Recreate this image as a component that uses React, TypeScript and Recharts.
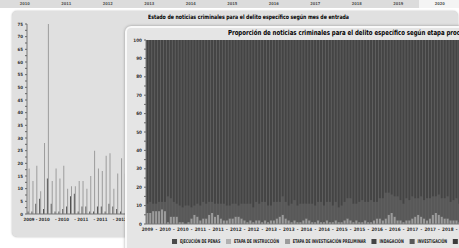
import { BarChart, Bar, XAxis, YAxis, CartesianGrid } from "recharts";

const NARROW = '"Liberation Sans Narrow", "DejaVu Sans Condensed", "Liberation Sans", sans-serif';

// strip of a chart behind, only its axis labels show
const stripYears = ["2010", "2011", "2012", "2013", "2014", "2015", "2016", "2017", "2018", "2019", "2020"];

// left chart: estado de noticias por mes de entrada
const leftDark = [1, 1, 4, 6, 2, 14, 4, 1, 1, 2, 3, 7, 8, 1, 3, 3, 1, 1, 3, 3, 1, 4, 3, 2, 1, 0, 6];
const leftLight = [18, 13, 19, 9, 28, 75, 13, 18, 14, 19, 10, 11, 11, 13, 13, 10, 15, 25, 18, 17, 23, 24, 10, 16, 22, 16, 14];
const leftTickLabels: Record<number, string> = {
  0: "2009", 2: "-", 4: "2010", 7: "-", 9: "2010", 12: "-", 14: "2011", 17: "-", 19: "2011", 22: "-", 24: "2012",
};
const leftYTicks = [0, 2.5, 5, 7.5, 10, 12.5, 15, 17.5, 20, 22.5, 25, 27.5, 30, 32.5, 35, 37.5, 40, 42.5, 45, 47.5, 50, 52.5, 55, 57.5, 60, 62.5, 65, 67.5, 70, 72.5, 75];

// front chart: proporcion por etapa procesal, monthly from 2009-07
const preliminar = [
  6, 6, 7, 7, 7, 8, 7, 1, 4, 4,
  4, 1, 1, 0, 1, 3, 5, 4, 2, 3,
  3, 5, 6, 4, 5, 3, 2, 2, 3, 3,
  4, 4, 3, 2, 1, 2, 1, 2, 2, 1,
  2, 1, 2, 2, 3, 4, 5, 3, 2, 1,
  2, 1, 1, 2, 3, 2, 1, 1, 2, 1,
  1, 2, 1, 1, 2, 1, 1, 2, 3, 2,
  1, 2, 1, 1, 2, 1, 1, 2, 3, 3,
  2, 3, 5, 6, 4, 2, 2, 1, 2, 2,
  3, 4, 5, 4, 3, 2, 3, 5, 6, 5,
  4, 3, 3, 2, 2, 2, 1, 2,
];
const investigacion = [
  5, 6, 4, 4, 5, 4, 5, 14, 10, 8,
  7, 9, 8, 10, 9, 6, 5, 7, 8, 9,
  8, 7, 6, 7, 6, 8, 9, 8, 7, 8,
  7, 6, 8, 9, 10, 9, 8, 10, 9, 11,
  10, 9, 8, 10, 9, 8, 10, 9, 8, 10,
  11, 9, 10, 9, 8, 9, 10, 9, 10, 11,
  9, 10, 11, 9, 10, 8, 9, 10, 11, 12,
  10, 9, 11, 12, 10, 11, 12, 10, 9, 11,
  12, 14, 12, 10, 11, 13, 11, 10, 12, 11,
  12, 10, 9, 11, 10, 12, 11, 10, 9, 11,
  10, 11, 12, 10, 11, 12, 10, 11,
];
const indagacion = [
  89, 88, 89, 89, 88, 88, 88, 85, 86, 88,
  89, 90, 91, 90, 90, 91, 90, 89, 90, 88,
  89, 88, 88, 89, 89, 89, 89, 90, 90, 89,
  89, 90, 89, 89, 89, 89, 91, 88, 89, 88,
  88, 90, 90, 88, 88, 88, 85, 88, 90, 89,
  87, 90, 89, 89, 89, 89, 89, 90, 88, 88,
  90, 88, 88, 90, 88, 91, 90, 88, 86, 86,
  89, 89, 88, 87, 88, 88, 87, 88, 88, 86,
  86, 83, 83, 84, 85, 85, 87, 89, 86, 87,
  85, 86, 86, 85, 87, 86, 86, 85, 85, 84,
  86, 86, 85, 88, 87, 86, 89, 87,
];
const frontYTicks = [0, 5, 10, 15, 20, 25, 30, 35, 40, 45, 50, 55, 60, 65, 70, 75, 80, 85, 90, 95, 100];

const stages = [
  { name: "EJECUCIÓN DE PENAS", color: "#4a4a4a" },
  { name: "ETAPA DE INSTRUCCIÓN", color: "#b0b0b0" },
  { name: "ETAPA DE INVESTIGACIÓN PRELIMINAR", color: "#9b9b9b" },
  { name: "INDAGACIÓN", color: "#444444" },
  { name: "INVESTIGACIÓN", color: "#585858" },
  { name: "JUICIO", color: "#3c3c3c" },
];

const months: string[] = [];
for (let i = 0; i < preliminar.length; i++) {
  const m = 6 + i;
  months.push(`${2009 + Math.floor(m / 12)}-${String((m % 12) + 1).padStart(2, "0")}`);
}

const leftData = leftDark.map((d, i) => ({ idx: i, archivadas: d, activas: leftLight[i] }));
const frontData = months.map((mes, i) => ({
  mes,
  preliminar: preliminar[i],
  investigacion: investigacion[i],
  indagacion: indagacion[i],
}));

const yTick = (step: number, size: number) => (props: any) => {
  const { x, y, payload } = props;
  if (payload.value % step !== 0) return <g />;
  return (
    <text x={x} y={y} textAnchor="end" dominantBaseline="central" fontSize={size} fontFamily={NARROW} fontWeight="bold" fill="#333">
      {payload.value}
    </text>
  );
};

const LeftXTick = (props: any) => {
  const { x, y, payload } = props;
  const label = leftTickLabels[payload.value];
  if (!label) return <g />;
  return (
    <text x={x} y={y} dy="0.71em" textAnchor="middle" fontSize={4.4} fontFamily={NARROW} fontWeight="bold" fill="#333">
      {label}
    </text>
  );
};

const FrontXTick = (props: any) => {
  const { x, y, payload } = props;
  const [year, month] = String(payload.value).split("-");
  let label = "";
  if (month === "01" || month === "07") label = year;
  else if (month === "04" || month === "10") label = "-";
  if (!label) return <g />;
  return (
    <text x={x} y={y} dy="0.71em" textAnchor="middle" fontSize={4.6} fontFamily={NARROW} fontWeight="bold" fill="#333">
      {label}
    </text>
  );
};

const squeeze = (k: number) => ({ transform: `scaleX(${k})`, transformOrigin: "left center" });

export default function App() {
  return (
    <div style={{ position: "fixed", left: 0, top: 0, width: 459, height: 248, overflow: "hidden", background: "#fff", fontFamily: NARROW }}>
      {/* top strip */}
      <div style={{ position: "absolute", left: 0, top: 0, width: 459, height: 8, background: "#dcdcdc", display: "flex", paddingLeft: 4 }}>
        {stripYears.map((y, i) => (
          <div
            key={y}
            style={{
              width: 41.5,
              textAlign: "center",
              fontSize: 4,
              lineHeight: "7px",
              fontWeight: "bold",
              color: "#555",
              background: i === stripYears.length - 1 ? "#f4f4f4" : undefined,
            }}
          >
            {y}
          </div>
        ))}
      </div>

      {/* back panel */}
      <div style={{ position: "absolute", left: 12, top: 11, width: 446, height: 226, background: "#e0e0e0", borderRadius: 5, boxShadow: "0 0 2px rgba(0,0,0,0.3)" }} />
      <div style={{ position: "absolute", left: 148, top: 14, fontSize: 6, lineHeight: "6px", fontWeight: "bold", color: "#000", whiteSpace: "nowrap", ...squeeze(0.86) }}>
        Estado de noticias criminales para el delito específico según mes de entrada
      </div>
      <div style={{ position: "absolute", left: 0, top: 0 }}>
        <BarChart width={131} height={228} data={leftData} margin={{ top: 24, right: 0, bottom: 0, left: 0 }} barCategoryGap="16%" barGap={0}>
          <XAxis dataKey="idx" height={14} interval={0} tickLine={false} tickSize={2} axisLine={{ stroke: "#777" }} tick={LeftXTick} />
          <YAxis width={27} domain={[0, 75]} ticks={leftYTicks} interval={0} tickSize={2} tickLine={{ stroke: "#666" }} axisLine={{ stroke: "#777" }} tick={yTick(5, 4.4)} />
          <Bar dataKey="archivadas" fill="#4f4f4f" isAnimationActive={false} />
          <Bar dataKey="activas" fill="#9c9c9c" isAnimationActive={false} />
        </BarChart>
      </div>

      {/* front panel */}
      <div style={{ position: "absolute", left: 125, top: 26, width: 452, height: 232, background: "#e5e5e5", border: "2px solid #f9f9f9", borderRadius: 6, boxShadow: "0 0 3px rgba(0,0,0,0.35)" }} />
      <div style={{ position: "absolute", left: 228, top: 30, fontSize: 7, lineHeight: "7px", fontWeight: "bold", color: "#000", whiteSpace: "nowrap", ...squeeze(0.86) }}>
        Proporción de noticias criminales para el delito específico según etapa procesal
      </div>
      <div style={{ position: "absolute", left: 128, top: 28 }}>
        <BarChart width={336} height={208} data={frontData} margin={{ top: 12, right: 0, bottom: 0, left: 0 }} barCategoryGap="10%">
          <CartesianGrid horizontal={false} vertical={false} fill="#606060" stroke="none" />
          <XAxis dataKey="mes" height={12} interval={0} tickLine={false} tickSize={2} axisLine={{ stroke: "#777" }} tick={FrontXTick} />
          <YAxis width={18} domain={[0, 100]} ticks={frontYTicks} interval={0} tickSize={2} tickLine={{ stroke: "#666" }} axisLine={{ stroke: "#777" }} tick={yTick(10, 4.6)} />
          <Bar dataKey="preliminar" stackId="etapa" fill={stages[2].color} isAnimationActive={false} />
          <Bar dataKey="investigacion" stackId="etapa" fill={stages[4].color} isAnimationActive={false} />
          <Bar dataKey="indagacion" stackId="etapa" fill={stages[3].color} isAnimationActive={false} />
        </BarChart>
      </div>

      {/* legend */}
      <div style={{ position: "absolute", left: 172, top: 238, display: "flex", alignItems: "center", gap: 8, whiteSpace: "nowrap", ...squeeze(0.72) }}>
        {stages.map((s) => (
          <div key={s.name} style={{ display: "flex", alignItems: "center", gap: 4 }}>
            <div style={{ width: 7, height: 5, background: s.color }} />
            <span style={{ fontSize: 5.2, lineHeight: "6px", fontWeight: "bold", color: "#222" }}>{s.name}</span>
          </div>
        ))}
      </div>
    </div>
  );
}
